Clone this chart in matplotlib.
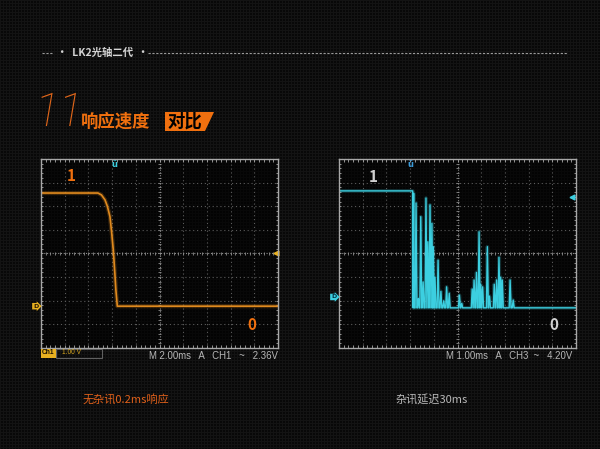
import numpy as np
import matplotlib
matplotlib.use("Agg")
import matplotlib.pyplot as plt
from matplotlib.patches import Polygon, Rectangle

plt.rcParams['font.family'] = ['Noto Sans CJK SC', 'DejaVu Sans']

W, H = 600, 449

# ---- data (scope divisions: time 0..10, volts -4..4) ----
# left: clean falling edge, ch1
left_t = [0.0, 2.40, 2.55, 2.70, 2.80, 2.91, 2.98, 3.05, 3.12, 3.16, 3.22, 10.0]
left_v = [2.56, 2.56, 2.48, 2.27, 2.00, 1.56, 0.90, 0.15, -0.90, -1.55, -2.23, -2.23]

# right: noisy falling edge, ch3
right_high = 2.65
right_low = -2.30
right_drop = 3.11
spike_t = [3.25, 3.35, 3.45, 3.55, 3.67, 3.75, 3.84, 3.92, 3.98, 4.05, 4.18, 4.30,
           4.42, 4.54, 4.65, 5.08, 5.18, 5.62, 5.70, 5.80, 5.91, 5.98, 6.06, 6.26,
           6.35, 6.55, 6.65, 6.75, 6.82, 6.89, 7.22, 7.35]
spike_v = [2.14, -1.90, 1.56, -1.20, 2.35, 0.50, 2.06, 1.28, 0.29, -1.00, -0.28, -1.60,
           -2.00, -1.41, -1.68, -1.76, -2.11, -1.50, -1.12, -0.80, 0.92, -1.30, -1.41, 0.29,
           -1.80, -1.30, -1.12, -0.16, -1.00, -1.12, -1.12, -1.97]

orange = '#f0700f'
trace_orange = '#e08a1e'
cyan = '#3ccfe0'


def fx(x):
    return x / W


def fy(y):
    return 1 - y / H


fig = plt.figure(figsize=(6, 4.49), dpi=100)
fig.patch.set_facecolor('#0a0a0a')

# dotted slide texture
yy, xx = np.mgrid[0:H, 0:W]
tex = np.where((xx % 3 == 0) | (yy % 3 == 0), 0.075, 0.035)
img = np.dstack([tex, tex, tex])
fig.figimage(img, xo=0, yo=0, zorder=-10)


def draw_scope(ax):
    ax.set_xlim(0, 10)
    ax.set_ylim(-4, 4)
    ax.set_facecolor((0, 0, 0, 0.55))
    ax.set_xticks([])
    ax.set_yticks([])
    for s in ax.spines.values():
        s.set_color('#a8a8a8')
        s.set_linewidth(1.0)
    for i in range(1, 10):
        if i != 5:
            ax.axvline(i, color='#5c5c5c', lw=0.8, ls=(0, (1, 2.5)))
    for j in range(-3, 4):
        if j != 0:
            ax.axhline(j, color='#5c5c5c', lw=0.8, ls=(0, (1, 2.5)))
    ax.axvline(5, color='#8c8c8c', lw=0.8, ls=(0, (1, 1.5)))
    ax.axhline(0, color='#8c8c8c', lw=0.8, ls=(0, (1, 1.5)))
    tx = np.arange(0.2, 10, 0.2)
    ty = np.arange(-3.8, 4, 0.2)
    ax.vlines(tx, -0.08, 0.08, color='#8c8c8c', lw=0.6)
    ax.hlines(ty, 4.93, 5.07, color='#8c8c8c', lw=0.6)
    ax.vlines(tx, -4, -3.88, color='#a8a8a8', lw=0.6)
    ax.vlines(tx, 3.88, 4, color='#a8a8a8', lw=0.6)
    ax.hlines(ty, 0, 0.1, color='#a8a8a8', lw=0.6)
    ax.hlines(ty, 9.9, 10, color='#a8a8a8', lw=0.6)


axl = fig.add_axes([fx(41), fy(348), 237 / W, 189 / H])
axr = fig.add_axes([fx(339), fy(348), 237 / W, 189 / H])
draw_scope(axl)
draw_scope(axr)

# left trace
axl.plot(left_t, left_v, color=trace_orange, lw=3.0, alpha=0.25, solid_capstyle='butt')
axl.plot(left_t, left_v, color=trace_orange, lw=1.2)
axl.text(1.27, 3.28, '1', color=orange, fontsize=11, fontweight='bold', ha='center', va='center')
axl.text(8.9, -3.03, '0', color=orange, fontsize=11, fontweight='bold', ha='center', va='center')
axl.text(3.08, 3.78, 'ü', color=cyan, fontsize=6, fontweight='bold', ha='center', va='center',
         family='DejaVu Sans')
axl.plot([9.93], [0], marker='<', color='#e8b020', ms=3.5, clip_on=False)
axl.text(-0.12, -2.23, 'D', color='#2a1a00', fontsize=4.5, fontweight='bold', ha='right', va='center',
         family='DejaVu Sans', clip_on=False,
         bbox=dict(boxstyle='rarrow,pad=0.12', fc='#e8b020', ec='none'))

# right trace built from spikes
rt = [0.0, right_drop, right_drop + 0.02, right_drop + 0.04, right_drop + 0.06]
rv = [right_high, right_high, right_low, right_high - 0.1, right_low]
for t, v in zip(spike_t, spike_v):
    rt += [t - 0.04, t, t + 0.04]
    rv += [right_low, v, right_low]
rt.append(10.0)
rv.append(right_low)
rt = np.array(rt)
rv = np.array(rv)
after = rt >= right_drop + 0.06
axr.fill_between(rt[after], right_low, rv[after], color=cyan, alpha=0.35, lw=0)
axr.plot(rt, rv, color=cyan, lw=2.6, alpha=0.22)
axr.plot(rt, rv, color=cyan, lw=1.0)
axr.text(1.45, 3.25, '1', color='#d0d0d0', fontsize=11, fontweight='bold', ha='center', va='center')
axr.text(9.07, -3.03, '0', color='#d0d0d0', fontsize=11, fontweight='bold', ha='center', va='center')
axr.text(3.02, 3.78, 'ü', color='#3a9ad8', fontsize=6, fontweight='bold', ha='center', va='center',
         family='DejaVu Sans')
axr.plot([9.85], [2.39], marker='<', color=cyan, ms=3.5, clip_on=False)
axr.text(-0.12, -1.84, 'D', color='#003040', fontsize=4.5, fontweight='bold', ha='right', va='center',
         family='DejaVu Sans', clip_on=False,
         bbox=dict(boxstyle='rarrow,pad=0.12', fc=cyan, ec='none'))

# status lines
fig.text(fx(278), fy(356), 'M 2.00ms   A   CH1   ~   2.36V', color='#b8b8b8', fontsize=6.9,
         ha='right', va='center', family='Liberation Sans')
fig.text(fx(572), fy(356), 'M 1.00ms   A   CH3  ~   4.20V', color='#b8b8b8', fontsize=6.9,
         ha='right', va='center', family='Liberation Sans')
fig.text(fx(42), fy(353), 'Ch1', color='#1a1000', fontsize=4.8, fontweight='bold', ha='left', va='center',
         family='Liberation Sans', bbox=dict(boxstyle='square,pad=0.15', fc='#e8b020', ec='none'))
fig.patches.append(Rectangle((fx(56), fy(358)), 46 / W, 9 / H, transform=fig.transFigure,
                             fill=False, ec='#606060', lw=0.8))
fig.text(fx(62), fy(353), '1.00 V', color='#d8a820', fontsize=4.8, ha='left', va='center',
         family='Liberation Sans')

# header
fig.add_artist(plt.Line2D([fx(42), fx(53)], [fy(53), fy(53)], color='#9a9a9a', lw=0.8,
                          ls=(0, (2, 1.5))))
fig.add_artist(plt.Line2D([fx(148), fx(567)], [fy(53), fy(53)], color='#9a9a9a', lw=0.8,
                          ls=(0, (2, 1.5))))
fig.text(fx(57), fy(53), '•  LK2光轴二代  •', color='#d4d4d4', fontsize=7.5, fontweight='bold',
         ha='left', va='center')

fig.text(fx(34), fy(113), '11', color='#e0661a', fontsize=33, fontweight=100,
         ha='left', va='center', family='Roboto', style='italic')
fig.text(fx(81), fy(122), '响应速度', color=orange, fontsize=12.5, fontweight='bold',
         ha='left', va='center')
fig.patches.append(Polygon([(fx(165), fy(112)), (fx(214), fy(112)), (fx(205), fy(131)), (fx(165), fy(131))],
                           closed=True, transform=fig.transFigure, fc=orange, ec='none'))
fig.text(fx(167), fy(122), '对比', color='black', fontsize=12.5, fontweight='bold',
         ha='left', va='center')

# captions
fig.text(fx(83), fy(399), '无杂讯0.2ms响应', color='#e0601a', fontsize=8, ha='left', va='center')
fig.text(fx(395), fy(400), '杂讯延迟30ms', color='#b8b8b8', fontsize=8, ha='left', va='center')

fig.savefig('out.png', dpi=100, facecolor=fig.get_facecolor())
